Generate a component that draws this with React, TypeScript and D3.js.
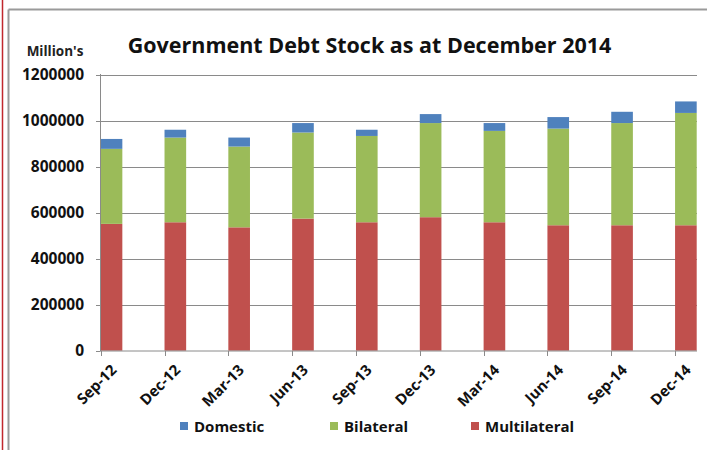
import React from "react";
import * as d3 from "d3";

const categories = ["Sep-12", "Dec-12", "Mar-13", "Jun-13", "Sep-13", "Dec-13", "Mar-14", "Jun-14", "Sep-14", "Dec-14"];
const multilateral = [551000, 558000, 536000, 574000, 558000, 580000, 558000, 545000, 545000, 545000];
const bilateral = [326000, 368000, 351000, 374000, 375000, 409000, 397000, 420000, 444000, 488000];
const domestic = [43000, 34000, 39000, 41000, 27000, 39000, 34000, 50000, 49000, 50000];
const yTicks = [0, 200000, 400000, 600000, 800000, 1000000, 1200000];
const seriesKeys = ["multilateral", "bilateral", "domestic"];
const seriesNames: Record<string, string> = { domestic: "Domestic", bilateral: "Bilateral", multilateral: "Multilateral" };
const colors: Record<string, string> = { domestic: "#4F81BD", bilateral: "#9BBB59", multilateral: "#C0504D" };
const legendOrder = ["domestic", "bilateral", "multilateral"];

const FONT = "'Open Sans', Lato, sans-serif";

export default function App() {
  const rows = categories.map((c, i) => ({
    cat: c,
    multilateral: multilateral[i],
    bilateral: bilateral[i],
    domestic: domestic[i],
  }));
  const stack = d3.stack<any>().keys(seriesKeys);
  const layers = stack(rows);

  const x = d3.scaleBand().domain(categories).range([100.7, 696.7]).paddingInner(0.661).paddingOuter(0);
  const y = d3.scaleLinear().domain([0, 1200000]).range([350.7, 74.5]);
  const gridColor = "#8a8a8a";
  const legendX: Record<string, number> = { domestic: 180, bilateral: 330, multilateral: 471 };

  return (
    <svg width={707} height={450} style={{ position: "absolute", left: 0, top: 0, background: "#fff" }}>
      <rect x={0} y={0} width={707} height={450} fill="#fff" />
      <line x1={2.5} x2={2.5} y1={0} y2={450} stroke="#c0272d" strokeWidth={1.5} />
      <line x1={8.5} x2={8.5} y1={9.5} y2={450} stroke="#9a9a9a" strokeWidth={2} />
      <line x1={8.5} x2={707} y1={9.5} y2={9.5} stroke="#9a9a9a" strokeWidth={2} />
      <text x={333} y={-5} fontFamily={FONT} fontWeight="bold" fontSize={22} fill="#222">y</text>

      <text x={369.5} y={53} textAnchor="middle" fontFamily={FONT} fontWeight="bold" fontSize={21.5} fill="#111">
        Government Debt Stock as at December 2014
      </text>
      <text x={55} y={56} textAnchor="middle" fontFamily={FONT} fontWeight="bold" fontSize={13.5} fill="#222">
        Million's
      </text>

      {yTicks.map((t) => (
        <g key={t}>
          {t !== 0 && (
            <line x1={100.5} x2={697} y1={Math.round(y(t)) + 0.5} y2={Math.round(y(t)) + 0.5} stroke={gridColor} strokeWidth={1} />
          )}
          <line x1={96} x2={100.5} y1={Math.round(y(t)) + 0.5} y2={Math.round(y(t)) + 0.5} stroke={gridColor} strokeWidth={1} />
          <text x={84} y={y(t)} dy="0.36em" textAnchor="end" fontFamily={FONT} fontWeight="bold" fontSize={15.5} fill="#111">
            {t}
          </text>
        </g>
      ))}

      {layers.map((layer) => (
        <g key={layer.key} fill={colors[layer.key]}>
          {layer.map((d, i) => (
            <rect
              key={i}
              x={x(categories[i])}
              y={y(d[1])}
              width={x.bandwidth()}
              height={y(d[0]) - y(d[1])}
            />
          ))}
        </g>
      ))}

      <line x1={100.5} x2={100.5} y1={74} y2={351} stroke={gridColor} strokeWidth={1} />
      <line x1={100.5} x2={697} y1={351} y2={351} stroke={gridColor} strokeWidth={1} />
      {categories.map((c) => (
        <line key={c} x1={Math.round(x(c)!) + 0.5} x2={Math.round(x(c)!) + 0.5} y1={351} y2={356} stroke={gridColor} strokeWidth={1} />
      ))}

      {categories.map((c) => {
        const cx = x(c)! + x.bandwidth() / 2 + 6;
        const cy = 371;
        return (
          <text
            key={c}
            x={cx}
            y={cy}
            transform={`rotate(-45 ${cx} ${cy})`}
            textAnchor="end"
            fontFamily={FONT}
            fontWeight="bold"
            fontSize={15}
            fill="#111"
          >
            {c}
          </text>
        );
      })}

      {legendOrder.map((k) => (
        <g key={k}>
          <rect x={legendX[k]} y={422} width={8} height={8} fill={colors[k]} />
          <text x={legendX[k] + 14} y={431.5} fontFamily={FONT} fontWeight="bold" fontSize={15} fill="#111">
            {seriesNames[k]}
          </text>
        </g>
      ))}
    </svg>
  );
}
